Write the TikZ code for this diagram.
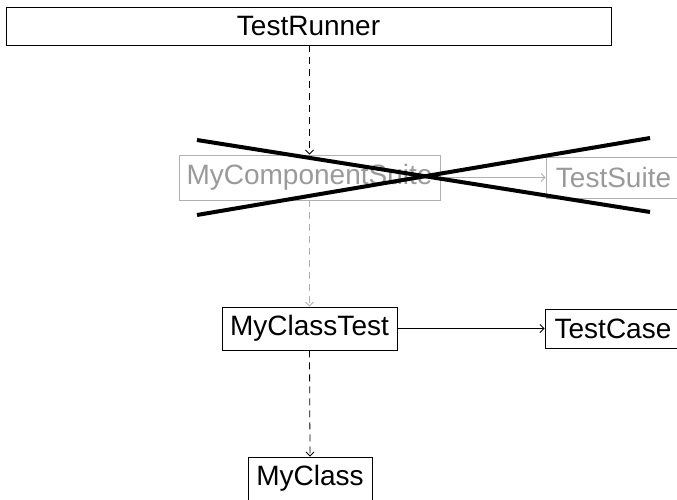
\documentclass[tikz,border=0pt]{standalone}
\usepackage{fontspec}
\setmainfont{Liberation Sans}
\usetikzlibrary{arrows.meta}
\definecolor{fadegray}{HTML}{9A9A9A}
\definecolor{fadeline}{HTML}{B0B0B0}
\begin{document}
\begin{tikzpicture}[x=1pt,y=-1pt,
  box/.style={draw=black,line width=0.9pt,inner sep=0pt,font=\fontsize{28}{32}\selectfont,text=black},
  fadebox/.style={box,draw=fadeline,text=fadegray},
  arr/.style={line width=0.8pt,-{Straight Barb[length=4pt,width=8pt]}},
  dsh/.style={dash pattern=on 7pt off 5pt},
  crossline/.style={line width=4pt,line cap=butt}]
\useasboundingbox (0,0) rectangle (677,500);
\clip (0,0) rectangle (677,500);
\node[box,minimum width=605pt,minimum height=38pt] (runner) at (308.5,26) {TestRunner};
\node[fadebox,minimum width=261pt,minimum height=45pt] (suite) at (309.5,177.5) {MyComponentSuite};
\node[fadebox,minimum width=135pt,minimum height=41pt] (tsuite) at (613.5,177.5) {TestSuite};
\node[box,minimum width=175pt,minimum height=43pt] (mct) at (309.5,328.5) {MyClassTest};
\node[box,minimum width=136pt,minimum height=39pt] (tcase) at (613,328.5) {TestCase};
\node[box,minimum width=124pt,minimum height=43pt] (mc) at (310,478.5) {MyClass};
\draw[arr,dsh] (runner.south -| suite.north) -- (suite.north);
\draw[arr,dsh,draw=fadeline] (suite.south) -- (mct.north);
\draw[arr,draw=fadeline] (suite.east) -- (tsuite.west);
\draw[arr] (mct.east) -- (tcase.west);
\draw[arr,dsh] (mct.south) -- (mc.north);
\draw[crossline] (197,140) -- (650,212);
\draw[crossline] (197,215) -- (650,138);
\end{tikzpicture}
\end{document}
